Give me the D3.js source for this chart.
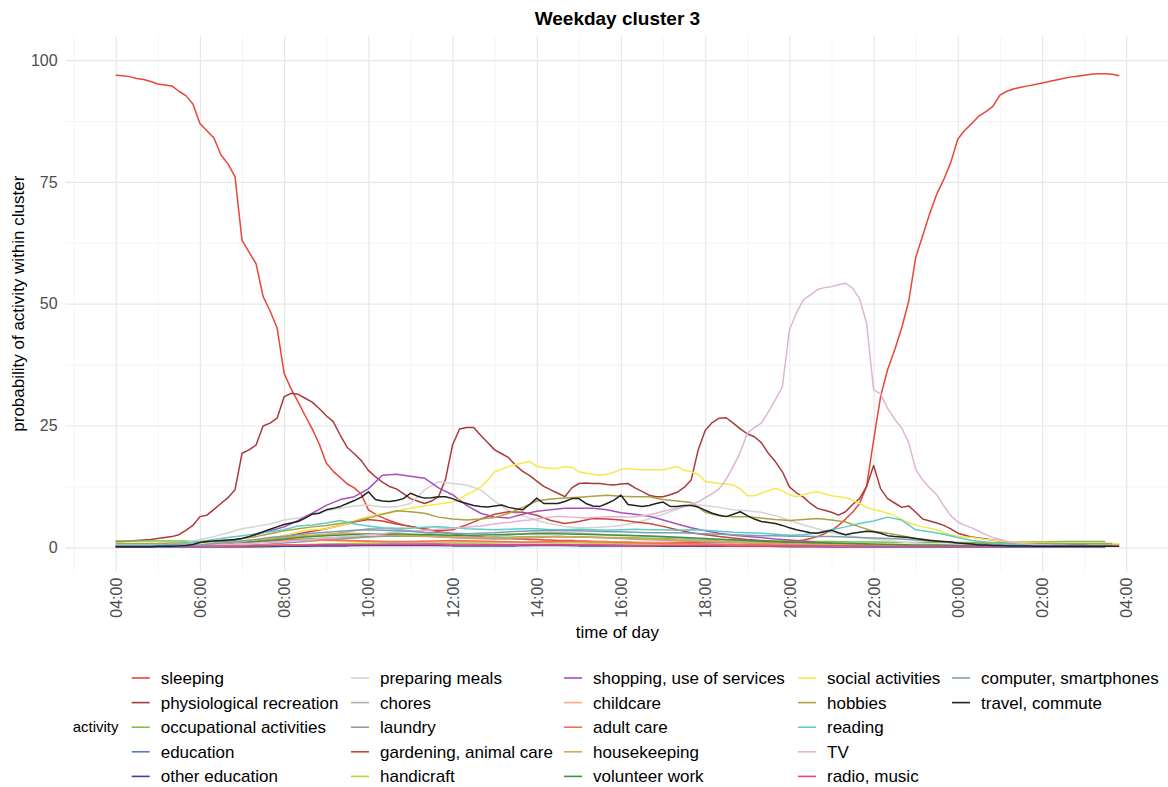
<!DOCTYPE html>
<html>
<head>
<meta charset="utf-8">
<script src="https://cdn.jsdelivr.net/npm/d3@7"></script>
<style>
body { margin: 0; background: #fff; }
svg { font-family: "Liberation Sans", Arial, sans-serif; }
</style>
</head>
<body>
<svg id="chart" width="1168" height="787"></svg>
<script>
/* Weekday cluster 3 - activity probabilities over the day */

// hour ticks (hours after 04:00)
var majorHours = [0, 2, 4, 6, 8, 10, 12, 14, 16, 18, 20, 22, 24];
var minorHours = [-1, 1, 3, 5, 7, 9, 11, 13, 15, 17, 19, 21, 23, 25];
var yMajor = [0, 25, 50, 75, 100];
var yMinor = [12.5, 37.5, 62.5, 87.5];

var activities = ["sleeping", "physiological recreation", "occupational activities",
	"education", "other education", "preparing meals", "chores", "laundry",
	"gardening, animal care", "handicraft", "shopping, use of services", "childcare",
	"adult care", "housekeeping", "volunteer work", "social activities", "hobbies",
	"reading", "TV", "radio, music", "computer, smartphones", "travel, commute"];

var activityColors = ["#e8463a", "#a93b3b", "#7cc243", "#5577cc", "#3f3fa6",
	"#d4d4d4", "#b0b0b0", "#999999", "#cc4433", "#b8d53c", "#a452bc", "#f7a98b",
	"#f0714f", "#d9a756", "#3e9442", "#f7e84d", "#a9a344", "#63caca", "#e0b4d6",
	"#e8477d", "#7e9fb2", "#222222"];

// minutes between samples for each activity
var sampleMinutes = [10, 10, 30, 30, 30, 20, 20, 30, 20, 30, 20, 30, 30, 30, 30,
	10, 20, 20, 10, 30, 20, 10];

// 10 minute samples
var sleeping = [96.9, 96.8, 96.6, 96.2, 96.0, 95.6, 95.1, 94.9, 94.7, 93.6, 92.7, 91.0,
	87.0, 85.5, 84.0, 80.5, 78.7, 76.1, 63.0, 60.6, 58.2, 51.5, 48.5, 45.0,
	35.7, 32.5, 29.8, 27.0, 24.3, 21.2, 17.3, 15.6, 14.3, 13.0, 12.2, 10.9,
	7.7, 6.8, 6.1, 5.5, 5.0, 4.6, 4.3, 4.0, 3.7, 3.5, 3.2, 3.0,
	2.8, 2.6, 2.4, 2.3, 2.2, 2.0, 1.9, 1.8, 1.8, 1.7, 1.7, 1.6,
	1.6, 1.5, 1.5, 1.4, 1.4, 1.4, 1.3, 1.3, 1.2, 1.2, 1.2, 1.1,
	1.1, 1.1, 1.0, 1.0, 1.0, 1.0, 1.0, 1.0, 1.0, 1.0, 1.0, 1.0,
	1.0, 1.0, 1.0, 1.0, 1.0, 1.1, 1.1, 1.1, 1.1, 1.1, 1.2, 1.2,
	1.2, 1.3, 1.5, 1.8, 2.2, 2.8, 3.5, 4.5, 5.8, 7.2, 9.0, 12.5,
	22.0, 31.0, 36.5, 40.5, 45.0, 50.5, 59.5, 64.0, 68.5, 72.5, 75.5, 79.0,
	83.8, 85.6, 87.0, 88.5, 89.4, 90.5, 92.8, 93.6, 94.1, 94.4, 94.7, 95.0,
	95.3, 95.6, 95.9, 96.2, 96.5, 96.7, 96.9, 97.1, 97.2, 97.2, 97.1, 96.8];

var physRecreation = [1.2, 1.2, 1.3, 1.4, 1.5, 1.6, 1.8, 2.0, 2.2, 2.6, 3.5, 4.5,
	6.3, 6.6, 7.8, 9.0, 10.2, 11.8, 19.3, 20.0, 21.0, 24.9, 25.5, 26.5,
	30.9, 31.6, 31.4, 30.6, 29.8, 28.5, 27.0, 25.8, 23.0, 20.5, 19.2, 17.8,
	15.8, 14.5, 13.4, 12.5, 12.0, 11.0, 10.0, 9.5, 9.0, 9.5, 10.4, 14.0,
	21.0, 24.3, 24.6, 24.6, 23.0, 21.5, 20.0, 19.2, 18.4, 16.8, 15.6, 14.7,
	13.6, 12.5, 11.8, 11.1, 10.4, 12.2, 13.1, 13.2, 13.1, 13.1, 12.9, 12.8,
	13.0, 13.1, 12.2, 11.5, 10.7, 10.4, 10.4, 10.8, 11.3, 12.3, 13.8, 20.0,
	24.0, 25.6, 26.5, 26.6, 25.5, 24.3, 23.3, 22.7, 21.5, 19.3, 17.6, 15.5,
	12.4, 11.2, 10.3, 9.0, 8.0, 7.6, 7.2, 6.6, 7.3, 8.8, 10.0, 12.5,
	16.8, 12.0, 10.0, 9.1, 8.2, 8.5, 7.2, 5.8, 5.4, 5.0, 4.5, 3.8,
	2.9, 2.5, 2.1, 1.9, 1.7, 1.5, 1.3, 1.1, 0.9, 0.8, 0.8, 0.8,
	0.7, 0.7, 0.7, 0.7, 0.6, 0.6, 0.6, 0.6, 0.6, 0.6, 0.6, 0.6];

var tv = [0.2, 0.2, 0.2, 0.2, 0.2, 0.2, 0.3, 0.3, 0.3, 0.3, 0.3, 0.4,
	0.4, 0.5, 0.5, 0.6, 0.6, 0.7, 0.8, 0.8, 0.9, 1.0, 1.0, 1.1,
	1.2, 1.3, 1.4, 1.5, 1.6, 1.8, 1.9, 2.0, 2.1, 2.2, 2.3, 2.5,
	2.6, 2.7, 2.8, 3.0, 3.1, 3.2, 3.3, 3.4, 3.5, 3.6, 3.7, 3.8,
	3.9, 4.0, 4.1, 4.3, 4.4, 4.6, 4.8, 5.0, 5.1, 5.3, 5.5, 5.6,
	5.8, 6.0, 6.2, 6.4, 6.3, 6.2, 6.1, 6.0, 6.1, 6.2, 6.3, 6.3,
	6.3, 6.2, 6.3, 6.5, 6.7, 7.0, 7.4, 7.7, 8.0, 8.4, 8.8, 9.3,
	10.2, 11.0, 12.0, 14.0, 16.6, 19.5, 23.4, 24.6, 25.5, 27.8, 30.3, 33.0,
	44.6, 48.1, 50.8, 51.8, 52.9, 53.3, 53.5, 53.9, 54.2, 53.2, 51.0, 46.0,
	32.3, 31.5, 28.5, 26.3, 24.5, 21.5, 16.0, 13.8, 12.2, 10.8, 8.5, 6.5,
	5.2, 4.5, 4.0, 3.3, 2.6, 2.0, 1.6, 1.2, 1.0, 0.8, 0.7, 0.6,
	0.5, 0.5, 0.4, 0.4, 0.4, 0.3, 0.3, 0.3, 0.3, 0.3, 0.3, 0.3];

var social = [0.3, 0.3, 0.3, 0.3, 0.3, 0.3, 0.3, 0.4, 0.4, 0.4, 0.5, 0.5,
	0.6, 0.7, 0.8, 0.9, 1.0, 1.1, 1.3, 1.5, 1.6, 1.8, 2.0, 2.2,
	2.5, 2.8, 3.1, 3.5, 3.6, 3.7, 3.8, 4.1, 4.5, 4.9, 5.4, 5.9,
	6.3, 6.6, 6.9, 7.0, 7.4, 7.8, 8.0, 8.3, 8.5, 8.7, 8.9, 9.1,
	9.3, 10.0, 10.8, 11.5, 12.4, 13.8, 15.5, 16.0, 16.6, 17.0, 17.3, 17.6,
	16.6, 16.4, 16.2, 16.2, 16.6, 16.4, 15.5, 15.2, 15.0, 14.8, 15.0, 15.4,
	16.0, 16.2, 16.0, 15.9, 15.9, 15.9, 15.9, 16.3, 16.6, 15.8, 15.5, 15.0,
	13.5, 13.3, 13.1, 13.0, 12.8, 12.0, 10.6, 10.6, 11.1, 11.6, 12.1, 11.6,
	10.8, 10.4, 10.8, 11.2, 11.4, 11.0, 10.6, 10.4, 10.2, 9.7, 9.0, 8.2,
	7.7, 7.4, 7.0, 6.5, 5.7, 5.0, 4.6, 4.2, 3.9, 3.6, 3.0, 2.6,
	2.3, 2.1, 2.0, 1.8, 1.6, 1.5, 1.3, 1.2, 1.1, 1.0, 1.0, 0.9,
	0.9, 0.9, 0.8, 0.8, 0.8, 0.8, 0.8, 0.7, 0.7, 0.7, 0.7, 0.7];

var travel = [0.1, 0.1, 0.1, 0.1, 0.1, 0.1, 0.2, 0.2, 0.2, 0.3, 0.4, 0.6,
	1.0, 1.2, 1.3, 1.4, 1.5, 1.6, 1.8, 2.2, 2.7, 3.2, 3.7, 4.2,
	4.7, 5.0, 5.3, 6.0, 6.8, 7.0, 7.7, 8.0, 8.4, 9.0, 9.6, 10.3,
	11.4, 9.8, 9.5, 9.4, 9.6, 10.0, 11.1, 10.5, 10.1, 10.2, 10.4, 10.4,
	10.0, 9.4, 9.0, 8.6, 8.4, 8.3, 8.5, 8.7, 8.2, 7.9, 7.7, 8.8,
	10.1, 9.0, 9.0, 9.0, 9.4, 10.0, 10.0, 9.0, 8.5, 8.4, 9.0, 9.7,
	10.7, 8.8, 8.6, 8.4, 8.6, 9.0, 9.3, 8.4, 8.4, 8.6, 8.6, 8.3,
	7.6, 7.0, 6.6, 6.3, 6.8, 7.3, 6.5, 5.8, 5.3, 5.1, 4.9, 4.5,
	4.0, 3.6, 3.3, 3.0, 2.9, 3.2, 3.5, 3.0, 2.6, 2.9, 3.1, 3.3,
	3.2, 2.9, 2.4, 2.2, 2.1, 2.0, 1.8, 1.6, 1.4, 1.3, 1.2, 1.1,
	0.9, 0.8, 0.7, 0.5, 0.5, 0.4, 0.4, 0.3, 0.3, 0.3, 0.3, 0.2,
	0.2, 0.2, 0.2, 0.2, 0.2, 0.2, 0.2, 0.2, 0.2, 0.2, 0.2, 0.2];

// 20 minute samples
var shopping = [0.1, 0.1, 0.1, 0.2, 0.2, 0.3, 0.5, 0.8, 1.2, 1.8, 2.6, 3.4,
	4.2, 5.5, 7.0, 8.6, 9.8, 10.4, 12.0, 14.8, 15.0, 14.6, 14.2, 12.2,
	10.8, 8.6, 7.0, 6.2, 6.0, 6.8, 7.4, 7.7, 8.0, 8.0, 8.0, 7.7,
	7.1, 6.8, 6.4, 5.6, 4.8, 4.0, 3.4, 2.9, 2.5, 2.2, 2.0, 1.7,
	1.5, 1.3, 1.0, 0.8, 0.7, 0.6, 0.5, 0.4, 0.4, 0.3, 0.3, 0.3,
	0.3, 0.3, 0.3, 0.3, 0.3, 0.2, 0.2, 0.2, 0.2, 0.2, 0.2, 0.2];

var preparingMeals = [0.3, 0.3, 0.4, 0.5, 0.7, 1.0, 1.6, 2.2, 3.0, 3.8, 4.3, 4.8,
	5.6, 6.0, 6.8, 7.5, 8.0, 8.5, 8.7, 8.3, 8.3, 9.0, 11.8, 13.5,
	13.1, 12.8, 11.8, 9.5, 7.5, 6.5, 5.5, 4.8, 4.3, 4.0, 4.0, 4.2,
	4.5, 5.0, 5.8, 6.8, 7.8, 8.8, 8.6, 8.2, 7.7, 7.5, 7.2, 6.5,
	5.5, 4.6, 3.8, 3.0, 2.5, 2.0, 1.7, 1.4, 1.1, 0.9, 0.7, 0.6,
	0.5, 0.5, 0.4, 0.4, 0.4, 0.3, 0.3, 0.3, 0.3, 0.3, 0.3, 0.3];

var hobbies = [0.8, 0.8, 0.8, 0.8, 0.9, 0.9, 1.0, 1.2, 1.5, 1.8, 2.2, 2.8,
	3.4, 3.8, 4.2, 4.5, 4.9, 5.3, 6.0, 6.8, 7.5, 7.3, 7.0, 6.2,
	5.8, 5.6, 5.8, 6.1, 7.0, 8.2, 9.5, 9.9, 10.1, 10.3, 10.5, 10.7,
	10.5, 10.4, 10.4, 9.8, 9.5, 9.2, 7.2, 6.5, 6.3, 6.3, 6.0, 5.7,
	5.5, 5.7, 5.9, 5.6, 5.2, 4.2, 3.3, 2.9, 2.4, 1.8, 1.5, 1.1,
	0.9, 0.8, 0.8, 0.8, 0.8, 0.8, 0.8, 0.8, 0.8, 0.8, 0.8, 0.8];

var reading = [0.5, 0.5, 0.5, 0.5, 0.6, 0.8, 1.2, 1.6, 2.0, 2.4, 2.8, 3.2,
	3.6, 4.4, 4.6, 5.0, 5.5, 4.8, 4.4, 4.0, 3.9, 3.9, 4.1, 4.2,
	4.0, 3.8, 3.7, 3.6, 3.7, 3.8, 3.8, 3.6, 3.6, 3.7, 3.6, 3.5,
	3.6, 3.7, 3.6, 3.6, 3.5, 3.6, 3.5, 3.3, 3.1, 3.0, 2.9, 2.7,
	2.5, 2.6, 3.0, 3.6, 4.2, 4.9, 5.4, 6.2, 5.6, 3.6, 3.2, 2.7,
	2.0, 1.4, 1.1, 0.8, 0.6, 0.5, 0.5, 0.5, 0.4, 0.4, 0.4, 0.4];

var gardening = [0.2, 0.2, 0.2, 0.2, 0.2, 0.2, 0.2, 0.4, 0.6, 0.9, 1.3, 1.8,
	2.2, 2.8, 3.3, 3.8, 4.5, 5.2, 5.7, 5.4, 4.8, 4.3, 3.8, 3.4,
	3.6, 4.6, 5.8, 6.8, 7.3, 7.2, 6.6, 5.5, 4.9, 5.3, 5.9, 5.8,
	5.6, 5.2, 4.9, 4.3, 3.6, 3.0, 2.6, 2.2, 1.9, 1.6, 1.4, 1.2,
	1.0, 0.8, 0.7, 0.6, 0.5, 0.5, 0.4, 0.4, 0.3, 0.3, 0.3, 0.3,
	0.2, 0.2, 0.2, 0.2, 0.2, 0.2, 0.2, 0.2, 0.2, 0.2, 0.2, 0.2];

var computer = [0.3, 0.3, 0.3, 0.3, 0.5, 0.5, 0.5, 0.8, 1.0, 1.3, 1.6, 2.0,
	2.3, 2.6, 2.9, 3.1, 3.3, 3.5, 3.6, 3.5, 3.4, 3.3, 3.1, 3.0,
	2.9, 2.8, 2.9, 3.0, 3.2, 3.3, 3.4, 3.5, 3.4, 3.4, 3.3, 3.2,
	3.2, 3.1, 3.0, 3.0, 3.0, 2.9, 2.8, 2.7, 2.6, 2.5, 2.4, 2.4,
	2.3, 2.3, 2.2, 2.2, 2.1, 2.0, 1.9, 1.8, 1.7, 1.5, 1.3, 1.1,
	0.9, 0.7, 0.6, 0.5, 0.4, 0.4, 0.3, 0.3, 0.3, 0.3, 0.3, 0.3];

var chores = [0.2, 0.2, 0.2, 0.3, 0.3, 0.4, 0.4, 0.6, 0.9, 1.2, 1.5, 1.8,
	2.0, 2.2, 2.4, 2.6, 3.0, 3.4, 3.8, 3.9, 3.7, 3.4, 3.0, 2.6,
	2.3, 2.1, 2.0, 2.2, 2.5, 2.8, 3.0, 3.1, 3.0, 2.9, 2.8, 2.6,
	2.5, 2.4, 2.3, 2.1, 1.9, 1.7, 1.5, 1.3, 1.2, 1.1, 1.0, 0.9,
	0.8, 0.7, 0.6, 0.5, 0.5, 0.4, 0.4, 0.3, 0.3, 0.3, 0.3, 0.3,
	0.2, 0.2, 0.2, 0.2, 0.2, 0.2, 0.2, 0.2, 0.2, 0.2, 0.2, 0.2];

// 30 minute samples
var occupational = [1.3, 1.3, 1.3, 1.3, 1.2, 1.2, 1.2, 1.3, 1.5, 1.7, 1.9, 2.0,
	2.2, 2.3, 2.3, 2.2, 2.1, 2.0, 2.0, 2.1, 2.2, 2.2, 2.1, 2.0,
	2.0, 1.9, 1.8, 1.7, 1.6, 1.5, 1.4, 1.3, 1.3, 1.2, 1.2, 1.1,
	1.1, 1.0, 1.0, 1.0, 1.0, 1.0, 1.0, 1.1, 1.1, 1.2, 1.2, 1.2];

var education = [0.1, 0.1, 0.1, 0.1, 0.1, 0.1, 0.1, 0.2, 0.3, 0.4, 0.5, 0.5,
	0.6, 0.7, 0.7, 0.8, 0.7, 0.7, 0.6, 0.6, 0.6, 0.6, 0.5, 0.5,
	0.5, 0.4, 0.4, 0.3, 0.3, 0.3, 0.2, 0.2, 0.2, 0.2, 0.1, 0.1,
	0.1, 0.1, 0.1, 0.1, 0.1, 0.1, 0.1, 0.1, 0.1, 0.1, 0.1, 0.1];

var otherEducation = [0.1, 0.1, 0.1, 0.1, 0.1, 0.1, 0.1, 0.1, 0.2, 0.2, 0.3, 0.3,
	0.4, 0.4, 0.4, 0.4, 0.3, 0.3, 0.3, 0.3, 0.4, 0.4, 0.3, 0.3,
	0.3, 0.3, 0.2, 0.2, 0.2, 0.2, 0.2, 0.2, 0.1, 0.1, 0.1, 0.1,
	0.1, 0.1, 0.1, 0.1, 0.1, 0.1, 0.1, 0.1, 0.1, 0.1, 0.1, 0.1];

var laundry = [0.2, 0.2, 0.2, 0.2, 0.2, 0.3, 0.4, 0.6, 0.9, 1.2, 1.5, 1.8,
	2.1, 2.4, 2.5, 2.3, 2.0, 1.8, 1.7, 1.8, 2.0, 2.2, 2.1, 2.0,
	1.8, 1.6, 1.5, 1.3, 1.1, 1.0, 0.9, 0.8, 0.7, 0.6, 0.5, 0.4,
	0.4, 0.3, 0.3, 0.3, 0.2, 0.2, 0.2, 0.2, 0.2, 0.2, 0.2, 0.2];

var handicraft = [0.3, 0.3, 0.3, 0.3, 0.3, 0.3, 0.4, 0.4, 0.5, 0.6, 0.7, 0.8,
	0.9, 1.0, 1.0, 1.0, 0.9, 0.9, 0.9, 1.0, 1.0, 0.9, 0.9, 0.8,
	0.8, 0.7, 0.7, 0.6, 0.6, 0.5, 0.5, 0.5, 0.4, 0.4, 0.4, 0.4,
	0.3, 0.3, 0.3, 0.3, 0.3, 0.3, 0.3, 0.3, 0.3, 0.3, 0.3, 0.3];

var childcare = [0.2, 0.2, 0.2, 0.2, 0.3, 0.4, 0.7, 1.0, 1.3, 1.5, 1.4, 1.3,
	1.2, 1.1, 1.0, 1.0, 1.1, 1.2, 1.1, 1.0, 1.0, 1.1, 1.2, 1.2,
	1.1, 1.0, 0.9, 0.8, 0.7, 0.6, 0.5, 0.5, 0.4, 0.4, 0.3, 0.3,
	0.3, 0.2, 0.2, 0.2, 0.2, 0.2, 0.2, 0.2, 0.2, 0.2, 0.2, 0.2];

var adultCare = [0.3, 0.3, 0.3, 0.3, 0.4, 0.6, 0.9, 1.2, 1.5, 1.6, 1.5, 1.4,
	1.3, 1.2, 1.2, 1.3, 1.4, 1.3, 1.2, 1.1, 1.1, 1.2, 1.2, 1.1,
	1.0, 0.9, 0.8, 0.8, 0.7, 0.6, 0.6, 0.5, 0.5, 0.4, 0.4, 0.4,
	0.3, 0.3, 0.3, 0.3, 0.3, 0.3, 0.3, 0.3, 0.3, 0.3, 0.3, 0.3];

var housekeeping = [0.3, 0.3, 0.3, 0.3, 0.5, 0.8, 1.2, 1.6, 2.0, 2.4, 2.7, 2.9,
	2.8, 2.6, 2.4, 2.2, 2.0, 1.9, 1.9, 2.0, 2.1, 2.2, 2.1, 2.0,
	1.9, 1.7, 1.6, 1.4, 1.3, 1.1, 1.0, 0.9, 0.8, 0.7, 0.6, 0.5,
	0.5, 0.4, 0.4, 0.3, 0.3, 0.3, 0.3, 0.3, 0.3, 0.3, 0.3, 0.3];

var volunteer = [0.3, 0.3, 0.3, 0.3, 0.4, 0.6, 0.9, 1.3, 1.7, 2.1, 2.4, 2.6,
	2.7, 2.8, 2.7, 2.6, 2.5, 2.5, 2.6, 2.7, 2.8, 2.8, 2.7, 2.6,
	2.5, 2.4, 2.2, 2.0, 1.8, 1.6, 1.4, 1.2, 1.1, 1.0, 0.9, 0.8,
	0.7, 0.6, 0.5, 0.5, 0.4, 0.4, 0.4, 0.3, 0.3, 0.3, 0.3, 0.3];

var radio = [0.2, 0.2, 0.2, 0.2, 0.2, 0.3, 0.3, 0.4, 0.5, 0.5, 0.6, 0.6,
	0.6, 0.6, 0.6, 0.6, 0.5, 0.5, 0.5, 0.5, 0.5, 0.5, 0.5, 0.5,
	0.4, 0.4, 0.4, 0.4, 0.4, 0.3, 0.3, 0.3, 0.3, 0.3, 0.3, 0.3,
	0.2, 0.2, 0.2, 0.2, 0.2, 0.2, 0.2, 0.2, 0.2, 0.2, 0.2, 0.2];

var activityValues = [sleeping, physRecreation, occupational, education, otherEducation,
	preparingMeals, chores, laundry, gardening, handicraft, shopping, childcare,
	adultCare, housekeeping, volunteer, social, hobbies, reading, tv, radio,
	computer, travel];

function hourLabel(h) {
	var hh = (h + 4) % 24;
	return (hh < 10 ? "0" : "") + hh + ":00";
}

function draw_chart() {
	var svg = d3.select("#chart");

	var left = 65.6, right = 1169.2, top = 35.7, bottom = 571.7;

	var x = d3.scaleLinear().domain([-1.19, 25.02]).range([left, right]);
	var y = d3.scaleLinear().domain([-5, 105]).range([bottom, top]);

	// grid
	var grid = svg.append("g").attr("class", "grid");

	grid.append("g")
		.attr("transform", "translate(0," + bottom + ")")
		.call(d3.axisBottom(x).tickValues(minorHours).tickSize(-(bottom - top)).tickFormat(""))
		.call(function(g) { g.select(".domain").remove(); })
		.selectAll("line").attr("stroke", "#f0f0f0").attr("stroke-width", 0.7);

	grid.append("g")
		.attr("transform", "translate(" + left + ",0)")
		.call(d3.axisLeft(y).tickValues(yMinor).tickSize(-(right - left)).tickFormat(""))
		.call(function(g) { g.select(".domain").remove(); })
		.selectAll("line").attr("stroke", "#f0f0f0").attr("stroke-width", 0.7);

	grid.append("g")
		.attr("transform", "translate(0," + bottom + ")")
		.call(d3.axisBottom(x).tickValues(majorHours).tickSize(-(bottom - top)).tickFormat(""))
		.call(function(g) { g.select(".domain").remove(); })
		.selectAll("line").attr("stroke", "#e8e8e8").attr("stroke-width", 1.2);

	grid.append("g")
		.attr("transform", "translate(" + left + ",0)")
		.call(d3.axisLeft(y).tickValues(yMajor).tickSize(-(right - left)).tickFormat(""))
		.call(function(g) { g.select(".domain").remove(); })
		.selectAll("line").attr("stroke", "#e8e8e8").attr("stroke-width", 1.2);

	// axes labels
	var yAxis = svg.append("g")
		.attr("transform", "translate(" + left + ",0)")
		.call(d3.axisLeft(y).tickValues(yMajor).tickSize(0).tickPadding(8));
	yAxis.select(".domain").remove();
	yAxis.selectAll("text")
		.attr("font-size", 16)
		.attr("font-family", "Liberation Sans, Arial, sans-serif")
		.attr("fill", "#4d4d4d");

	var xAxis = svg.append("g")
		.attr("transform", "translate(0," + bottom + ")")
		.call(d3.axisBottom(x).tickValues(majorHours).tickSize(0).tickFormat(hourLabel));
	xAxis.select(".domain").remove();
	xAxis.selectAll("text")
		.attr("font-size", 16)
		.attr("font-family", "Liberation Sans, Arial, sans-serif")
		.attr("fill", "#4d4d4d")
		.attr("text-anchor", "end")
		.attr("transform", "rotate(-90)")
		.attr("x", -6)
		.attr("y", 0)
		.attr("dy", "0.35em");

	// lines
	var line = d3.line()
		.x(function(d) { return x(d.h); })
		.y(function(d) { return y(d.v); });

	var series = activities.map(function(name, k) {
		var step = sampleMinutes[k] / 60;
		return {
			name: name,
			color: activityColors[k],
			points: activityValues[k].map(function(v, i) { return {h: i * step, v: v}; })
		};
	});

	svg.append("g")
		.attr("class", "lines")
		.selectAll("path")
		.data(series)
		.enter().append("path")
		.attr("fill", "none")
		.attr("stroke", function(d) { return d.color; })
		.attr("stroke-width", 1.5)
		.attr("stroke-linejoin", "round")
		.attr("d", function(d) { return line(d.points); });

	// titles
	svg.append("text")
		.attr("x", (left + right) / 2)
		.attr("y", 25)
		.attr("text-anchor", "middle")
		.attr("font-size", 19)
		.attr("font-weight", "bold")
		.text("Weekday cluster 3");

	svg.append("text")
		.attr("x", (left + right) / 2)
		.attr("y", 638)
		.attr("text-anchor", "middle")
		.attr("font-size", 17)
		.text("time of day");

	svg.append("text")
		.attr("transform", "translate(24," + ((top + bottom) / 2) + ") rotate(-90)")
		.attr("text-anchor", "middle")
		.attr("font-size", 17)
		.text("probability of activity within cluster");

	// legend, 5 rows filled column by column
	var legendTextX = [160.7, 380, 593, 827, 981];
	var legendRowY = 678, legendRowH = 24.6;
	var legend = svg.append("g").attr("class", "legend");

	legend.append("text")
		.attr("x", 72.7)
		.attr("y", legendRowY + 2 * legendRowH)
		.attr("dy", "0.35em")
		.attr("font-size", 15)
		.text("activity");

	var item = legend.selectAll("g.item")
		.data(series)
		.enter().append("g")
		.attr("class", "item")
		.attr("transform", function(d, i) {
			return "translate(" + legendTextX[Math.floor(i / 5)] + ","
				+ (legendRowY + (i % 5) * legendRowH) + ")";
		});

	item.append("line")
		.attr("x1", -29).attr("x2", -11)
		.attr("y1", 0).attr("y2", 0)
		.attr("stroke", function(d) { return d.color; })
		.attr("stroke-width", 1.6);

	item.append("text")
		.attr("x", 0)
		.attr("dy", "0.35em")
		.attr("font-size", 17)
		.text(function(d) { return d.name; });
}

draw_chart();
</script>
</body>
</html>
